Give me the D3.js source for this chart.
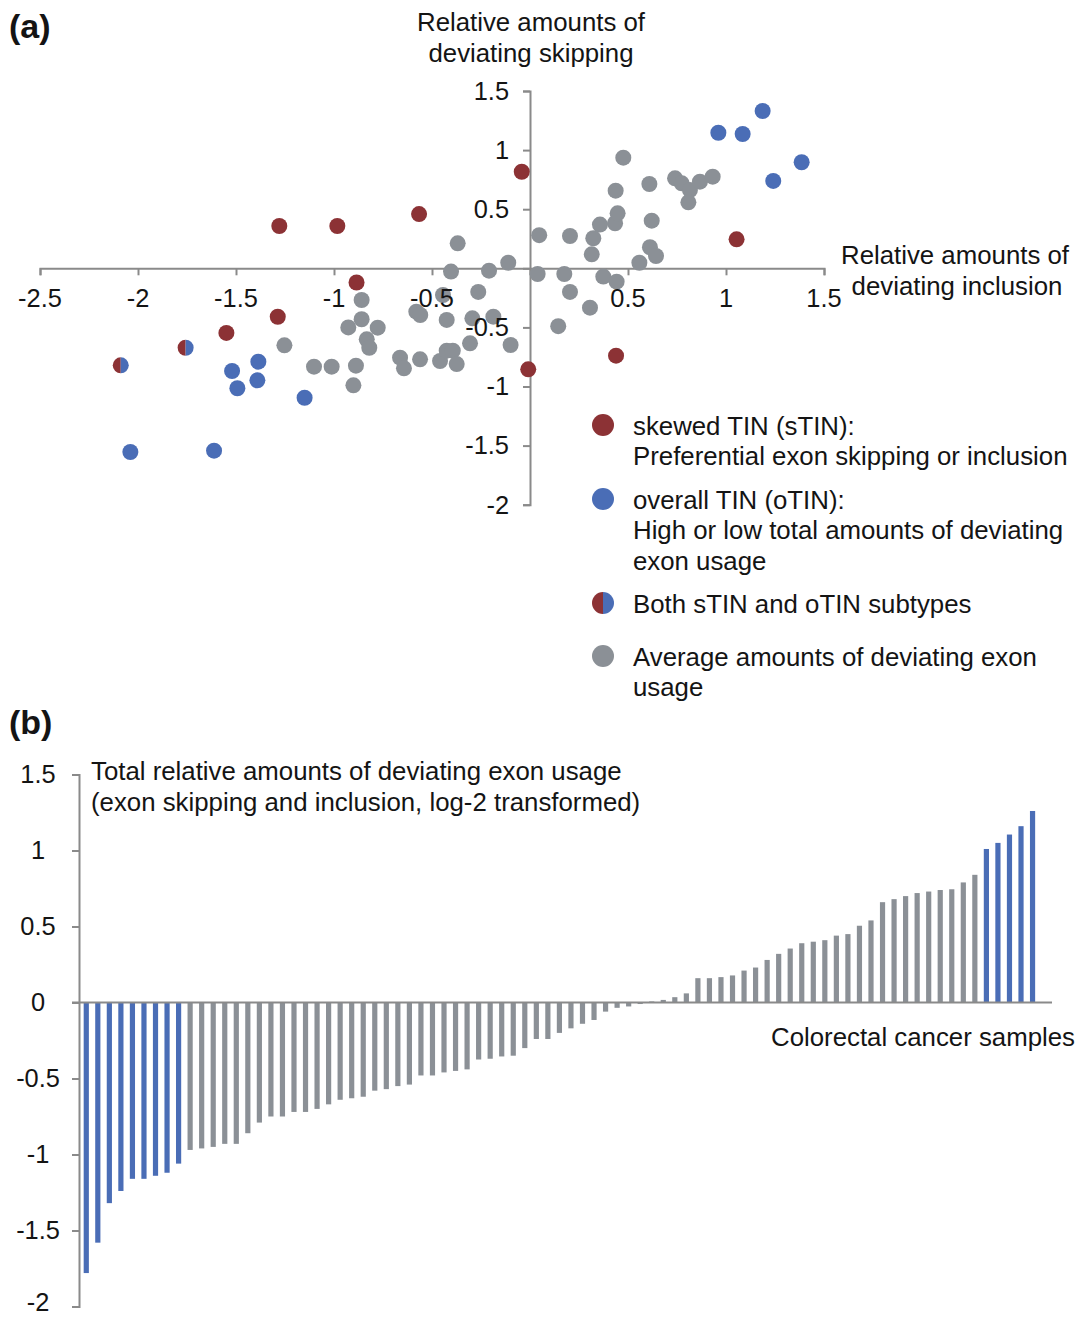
<!DOCTYPE html>
<html>
<head>
<meta charset="utf-8">
<script src="https://cdn.jsdelivr.net/npm/d3@7"></script>
<style>
  body { margin: 0; background: #fff; }
  svg { display: block; font-family: "Liberation Sans", Arial, Helvetica, sans-serif; }
</style>
</head>
<body>
<svg id="fig"></svg>
<script>
// (a) scatter: relative deviating inclusion (x) vs skipping (y), one dot per sample
// (b) bars: total relative deviating exon usage, sorted

// [inclusion, skipping]
const skewedPoints = [
  [-1.279, 0.358], [-0.983, 0.358], [-0.566, 0.459], [-0.042, 0.817],
  [-0.885, -0.12], [-1.287, -0.41], [-1.549, -0.547], [-0.009, -0.855],
  [0.439, -0.739], [1.054, 0.245]
];
const overallPoints = [
  [-1.386, -0.79], [-1.52, -0.869], [-1.391, -0.948], [-1.493, -1.015],
  [-1.15, -1.095], [-2.039, -1.554], [-1.612, -1.543],
  [0.961, 1.147], [1.085, 1.136], [1.187, 1.331], [1.241, 0.739], [1.386, 0.897]
];
const bothPoints = [[-1.757, -0.672], [-2.088, -0.821]];
const averagePoints = [
  [-1.253, -0.652], [-1.102, -0.832], [-1.012, -0.832], [-0.901, -0.99],
  [-0.888, -0.824], [-0.927, -0.5], [-0.859, -0.268], [-0.859, -0.431],
  [-0.777, -0.502], [-0.833, -0.601], [-0.82, -0.672], [-0.663, -0.756],
  [-0.643, -0.846], [-0.561, -0.77], [-0.459, -0.784], [-0.425, -0.697],
  [-0.394, -0.697], [-0.374, -0.81], [-0.58, -0.367], [-0.56, -0.395],
  [-0.425, -0.437], [-0.294, -0.423], [-0.187, -0.409], [-0.306, -0.635],
  [-0.099, -0.649], [-0.444, -0.226], [-0.264, -0.2], [-0.403, -0.028],
  [-0.369, 0.211], [-0.209, -0.02], [-0.111, 0.047], [0.047, 0.28],
  [0.204, 0.273], [0.039, -0.048], [0.175, -0.048], [0.204, -0.2],
  [0.144, -0.49], [0.306, -0.333], [0.374, -0.07], [0.442, -0.113],
  [0.323, 0.254], [0.315, 0.118], [0.357, 0.37], [0.434, 0.381],
  [0.447, 0.465], [0.437, 0.657], [0.476, 0.936], [0.609, 0.713],
  [0.621, 0.403], [0.612, 0.178], [0.643, 0.104], [0.558, 0.047],
  [0.74, 0.761], [0.774, 0.719], [0.816, 0.662], [0.808, 0.558],
  [0.867, 0.733], [0.932, 0.775]
];

// sorted totals, 83 samples
const totalUsage = [
  -1.78, -1.58, -1.32, -1.24, -1.16, -1.16, -1.14, -1.12, -1.06,
  -0.97, -0.96, -0.95, -0.93, -0.93, -0.86, -0.79, -0.75, -0.75, -0.72,
  -0.72, -0.70, -0.67, -0.64, -0.63, -0.62, -0.58, -0.57, -0.55, -0.54,
  -0.48, -0.48, -0.46, -0.45, -0.44, -0.375, -0.37, -0.355, -0.35, -0.30,
  -0.24, -0.24, -0.20, -0.17, -0.14, -0.115, -0.06, -0.035, -0.026, -0.01,
  0.007, 0.017, 0.035, 0.06, 0.16, 0.16, 0.167, 0.178, 0.21, 0.23,
  0.28, 0.32, 0.355, 0.39, 0.40, 0.41, 0.44, 0.45, 0.505, 0.54,
  0.66, 0.68, 0.70, 0.72, 0.73, 0.74, 0.745, 0.79, 0.84,
  1.01, 1.05, 1.105, 1.16, 1.26
];
const oTinLowCount = 9;   // first bars are oTIN (low)
const oTinHighCount = 5;  // last bars are oTIN (high)

const scatterXTicks = [-2.5, -2, -1.5, -1, -0.5, 0, 0.5, 1, 1.5];
const scatterYTicks = [-2, -1.5, -1, -0.5, 0, 0.5, 1, 1.5];
const barYTicks = [-2, -1.5, -1, -0.5, 0, 0.5, 1, 1.5];

const legendItems = [
  { key: "s", lines: ["skewed TIN (sTIN):", "Preferential exon skipping or inclusion"] },
  { key: "o", lines: ["overall TIN (oTIN):", "High or low total amounts of deviating", "exon usage"] },
  { key: "b", lines: ["Both sTIN and oTIN subtypes"] },
  { key: "a", lines: ["Average amounts of deviating exon", "usage"] }
];

const RED = "#8c3235", BLUE = "#4a6db6", GRAY = "#8b9096";
const AXIS = "#8a8a8a", INK = "#141414";
const FS = 25.8;     // titles, legend
const TFS = 25.4;    // tick labels

const W = 1078, H = 1317;
const svg = d3.select("#fig").attr("width", W).attr("height", H);
svg.append("rect").attr("width", W).attr("height", H).attr("fill", "#fff");

const fmt = d => String(d);

// ---------- panel (a) ----------
const x = d3.scaleLinear().domain([-2.5, 1.5]).range([40, 824]);
const y = d3.scaleLinear().domain([-2, 1.5]).range([504.7, 91]);

svg.append("text").attr("x", 9).attr("y", 38)
  .attr("font-size", 34).attr("font-weight", 700).attr("fill", INK).text("(a)");

const ax = svg.append("g");
ax.append("g").attr("transform", `translate(0,${y(0)})`)
  .call(d3.axisBottom(x).tickValues(scatterXTicks).tickSize(7).tickFormat(""));
ax.append("g").attr("transform", `translate(${x(0)},0)`)
  .call(d3.axisLeft(y).tickValues(scatterYTicks).tickSize(7).tickFormat(""));
ax.selectAll("path, line").attr("stroke", AXIS).attr("stroke-width", 2);

const dots = svg.append("g");
const R = 8;
dots.selectAll("circle.avg").data(averagePoints).join("circle")
  .attr("cx", d => x(d[0])).attr("cy", d => y(d[1])).attr("r", R).attr("fill", GRAY);
dots.selectAll("circle.sk").data(skewedPoints).join("circle")
  .attr("cx", d => x(d[0])).attr("cy", d => y(d[1])).attr("r", R).attr("fill", RED);
dots.selectAll("circle.ov").data(overallPoints).join("circle")
  .attr("cx", d => x(d[0])).attr("cy", d => y(d[1])).attr("r", R).attr("fill", BLUE);

function halfDisc(g, cx, cy, r) {
  g.append("path").attr("d", `M${cx},${cy - r} A${r},${r} 0 0 0 ${cx},${cy + r} Z`).attr("fill", RED);
  g.append("path").attr("d", `M${cx},${cy - r} A${r},${r} 0 0 1 ${cx},${cy + r} Z`).attr("fill", BLUE);
}
bothPoints.forEach(d => halfDisc(dots, x(d[0]), y(d[1]), R));

// tick labels sit above the dots
const lab = svg.append("g").attr("font-size", TFS).attr("fill", INK);
lab.selectAll("text.xt").data(scatterXTicks.filter(t => t !== 0)).join("text")
  .attr("x", d => x(d)).attr("y", y(0) + 21).attr("dy", "0.71em")
  .attr("text-anchor", "middle").text(fmt);
lab.selectAll("text.yt").data(scatterYTicks.filter(t => t !== 0)).join("text")
  .attr("x", x(0) - 21).attr("y", d => y(d)).attr("dy", "0.35em")
  .attr("text-anchor", "end").text(fmt);

const titles = svg.append("g").attr("font-size", FS).attr("fill", INK).attr("text-anchor", "middle");
titles.append("text").attr("x", 531).attr("y", 31).text("Relative amounts of");
titles.append("text").attr("x", 531).attr("y", 62).text("deviating skipping");
titles.append("text").attr("x", 955).attr("y", 264).text("Relative amounts of");
titles.append("text").attr("x", 957).attr("y", 295).text("deviating inclusion");

// legend
const legY = [425, 499, 603, 656];
const leg = svg.append("g").attr("font-size", FS).attr("fill", INK);
legendItems.forEach((item, i) => {
  const cy = legY[i], cx = 603, r = 11;
  if (item.key === "b") halfDisc(leg, cx, cy, r);
  else leg.append("circle").attr("cx", cx).attr("cy", cy).attr("r", r)
    .attr("fill", item.key === "s" ? RED : item.key === "o" ? BLUE : GRAY);
  item.lines.forEach((ln, j) => {
    leg.append("text").attr("x", 633).attr("y", cy + 9.5 + j * 30.7).text(ln);
  });
});

// ---------- panel (b) ----------
svg.append("text").attr("x", 9).attr("y", 734)
  .attr("font-size", 34).attr("font-weight", 700).attr("fill", INK).text("(b)");

const by = d3.scaleLinear().domain([-2, 1.5]).range([1306.5, 774.5]);
const bx = d3.scaleBand().domain(d3.range(totalUsage.length))
  .range([80.5, 80.5 + totalUsage.length * 11.54])
  .paddingInner(0.55).paddingOuter(0.275);

const barColor = i => (i < oTinLowCount || i >= totalUsage.length - oTinHighCount) ? BLUE : GRAY;

svg.append("g").selectAll("rect").data(totalUsage).join("rect")
  .attr("x", (d, i) => bx(i)).attr("width", bx.bandwidth())
  .attr("y", d => by(Math.max(0, d)))
  .attr("height", d => Math.abs(by(d) - by(0)))
  .attr("fill", (d, i) => barColor(i));

const byAxis = svg.append("g").attr("transform", "translate(79,0)")
  .call(d3.axisLeft(by).tickValues(barYTicks).tickSize(7).tickFormat(fmt));
byAxis.selectAll("path, line").attr("stroke", AXIS).attr("stroke-width", 2);
byAxis.selectAll("text").attr("x", -41).attr("text-anchor", "middle")
  .attr("dy", d => d === barYTicks[0] ? "0.17em" : "0.3em")   // lowest label kept inside the page
  .attr("font-size", TFS).attr("font-family", null).attr("fill", INK);

svg.append("line").attr("x1", 72).attr("x2", 1052)
  .attr("y1", by(0)).attr("y2", by(0))
  .attr("stroke", AXIS).attr("stroke-width", 2);

const bt = svg.append("g").attr("font-size", FS).attr("fill", INK);
bt.append("text").attr("x", 91).attr("y", 780).text("Total relative amounts of deviating exon usage");
bt.append("text").attr("x", 91).attr("y", 811).text("(exon skipping and inclusion, log-2 transformed)");
bt.append("text").attr("x", 1075).attr("y", 1046).attr("text-anchor", "end").text("Colorectal cancer samples");
</script>
</body>
</html>
